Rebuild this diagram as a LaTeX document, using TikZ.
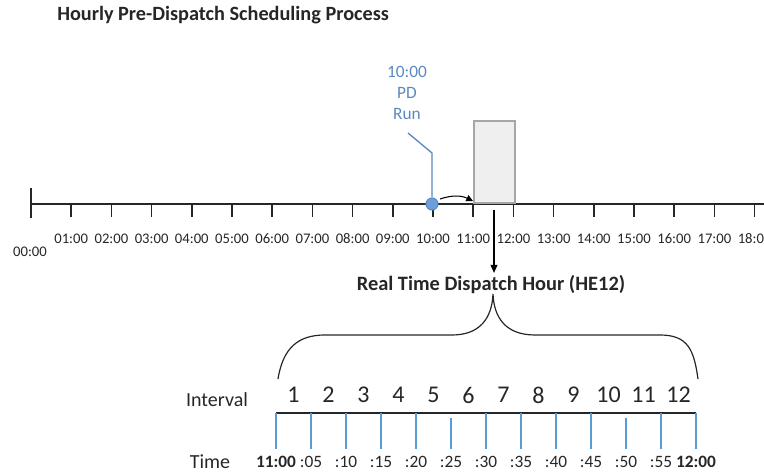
\documentclass[tikz,border=0pt]{standalone}
\usepackage{fontspec}
\setmainfont{Carlito}
\usetikzlibrary{arrows.meta}
\definecolor{pdblue}{HTML}{5A89C2}
\definecolor{pdfill}{HTML}{6F9FD8}
\definecolor{tickblue}{HTML}{5B9BD5}
\definecolor{boxgray}{HTML}{A6A6A6}
\definecolor{boxfill}{HTML}{EFEFEF}
\definecolor{txt}{HTML}{262626}
\tikzset{
  axisline/.style={line width=1.1pt, black!85},
  hourlbl/.style={font=\fontsize{11}{13}\selectfont, text=txt, inner sep=0pt},
  numlbl/.style={font=\fontsize{18}{21}\selectfont, text=txt, inner sep=0pt},
  rowlbl/.style={font=\fontsize{15}{18}\selectfont, text=txt, inner sep=0pt},
  timelbl/.style={font=\fontsize{13}{15}\selectfont, text=txt, inner sep=0pt},
  bluetick/.style={tickblue, line width=0.9pt},
  arrowline/.style={line width=0.9pt, black, -{Triangle[length=6pt,width=5pt]}}
}
\begin{document}
\begin{tikzpicture}[x=0.75pt,y=-0.75pt]
\useasboundingbox (0,0) rectangle (764,473);
% title
\node[anchor=west, font=\bfseries\fontsize{15.2}{18}\selectfont, text=txt, inner sep=0pt] (title) at (57,15) {Hourly Pre-Dispatch Scheduling Process};
% timeline
\coordinate (tlstart) at (31,204);
\coordinate (tlend) at (764,204);
\draw[axisline] (tlstart) -- (tlend);
\draw[axisline] (31,188) -- (31,218);
\node[hourlbl] (h0) at (30,252) {00:00};
\foreach \i in {1,...,18}{
  \draw[axisline] ({31+40.2*\i},204) -- ++(0,13);
  \node[hourlbl] (h\i) at ({31+40.2*\i},239) {\ifnum\i<10 0\fi\i:00};
}
% gray box
\node[draw=boxgray, fill=boxfill, line width=1.5pt, anchor=south west, minimum width=30.75pt, minimum height=61.5pt, inner sep=0pt] (box) at (473,204) {};
% PD run marker
\node[circle, draw=pdblue, fill=pdfill, line width=0.8pt, minimum size=9pt, inner sep=0pt] (pd) at (432,204) {};
\coordinate (callA) at (432,153);
\coordinate (callB) at (408,133);
\draw[pdblue, line width=1pt] (pd.north) -- (callA) -- (callB);
\node[font=\fontsize{13}{16}\selectfont, text=pdblue, align=center, inner sep=0pt] (pdtext) at (407,93) {10:00\\PD\\Run};
% curved arrow
\coordinate (cs) at (440,199);
\coordinate (ce) at (473,201);
\draw[line width=0.8pt, -{Triangle[length=5pt,width=5pt]}] (cs) to[bend left=22] (ce);
% down arrow
\node[font=\bfseries\fontsize{15.3}{18}\selectfont, text=txt, inner sep=0pt] (rt) at (491,285) {Real Time Dispatch Hour (HE12)};
\coordinate (ds) at (494,210);
\coordinate (de) at (494,273);
\draw[arrowline] (ds) -- (de);
% brace
\coordinate (bl) at (278,379);
\coordinate (btip) at (493,294);
\coordinate (br) at (698,379);
\draw[line width=0.9pt, black!85] (bl) .. controls (283,348) and (298,335) .. (325,335)
  -- (452,335) .. controls (480,335) and (492,318) .. (btip)
  .. controls (494,318) and (506,335) .. (535,335)
  -- (660,335) .. controls (688,335) and (694,350) .. (br);
% interval row
\node[rowlbl] (intlbl) at (217,400) {Interval};
\node[rowlbl] (timelbl) at (210,462) {Time};
\coordinate (il) at (276,413);
\coordinate (ir) at (696,413);
\draw[axisline] (il) -- (ir);
\foreach \i in {1,...,12}{
  \node[numlbl] (n\i) at ({276+35*(\i-0.5)},395) {\i};
}
\foreach \i/\s in {0/0,1/0,2/0,3/0,4/0,5/5,6/0,7/0,8/0,9/0,10/5,11/0,12/0}{
  \draw[bluetick] ({276+35*\i},{413+\s}) -- ({276+35*\i},449);
}
\node[timelbl, font=\bfseries\fontsize{13}{15}\selectfont] (t0) at (276,462) {11:00};
\foreach \i/\m in {1/05,2/10,3/15,4/20,5/25,6/30,7/35,8/40,9/45,10/50,11/55}{
  \node[timelbl] (t\i) at ({276+35*\i},462) {:\m};
}
\node[timelbl, font=\bfseries\fontsize{13}{15}\selectfont] (t12) at (696,462) {12:00};
\end{tikzpicture}
\end{document}
